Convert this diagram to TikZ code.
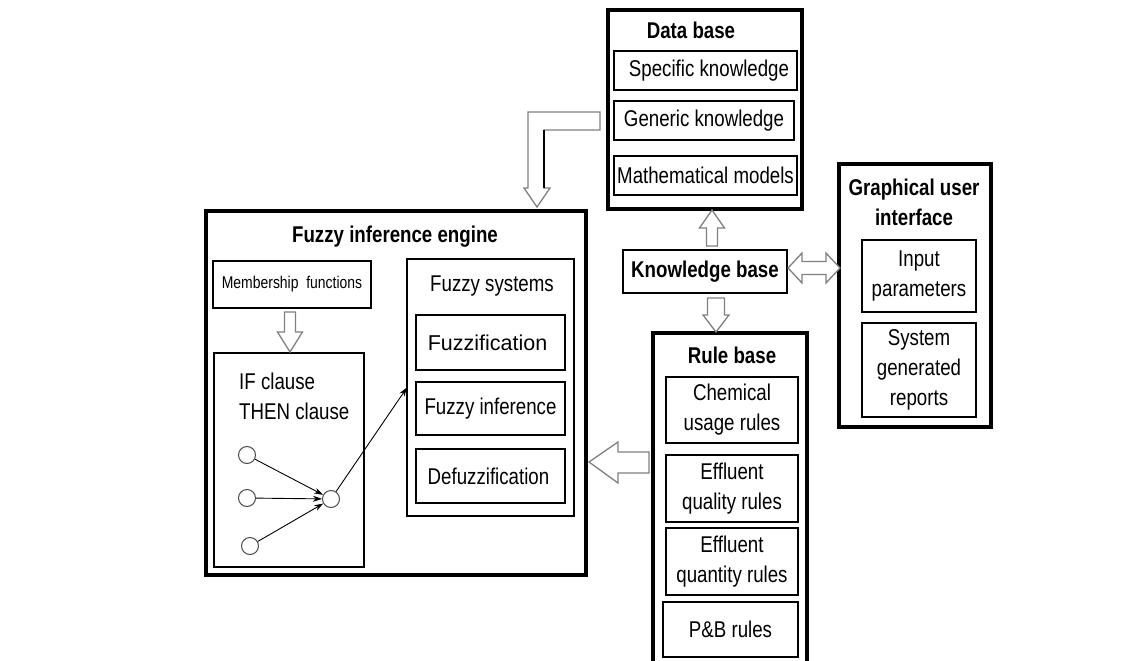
\documentclass[tikz,border=0pt]{standalone}
\usepackage{fontspec}
\setmainfont{Liberation Sans}[FakeStretch=0.82]
\newfontfamily\plainfont{Liberation Sans}
\usepackage{tikz}
\usetikzlibrary{calc}
\usetikzlibrary{arrows.meta}

\begin{document}
\begin{tikzpicture}[x=1pt,y=-1pt,
       font=\fontsize{22.8}{30}\selectfont,
       outerbox/.style={draw, line width=3.2pt, inner sep=0pt, outer sep=0pt},
       innerbox/.style={draw, line width=2.4pt, inner sep=0pt, outer sep=0pt, align=center},
       thinbox/.style={draw, line width=1.8pt, inner sep=0pt, outer sep=0pt, align=center},
       boxtitle/.style={font=\fontsize{22.8}{30}\selectfont\bfseries, align=center, inner sep=0pt},
       hollow/.style={draw=black!50, line width=1.3pt, fill=white, line join=miter},
       neuron/.style={circle, draw=black!70, line width=1pt, minimum size=17pt, inner sep=0pt},
       link/.style={line width=0.9pt, -{Stealth[length=9pt,width=6pt]}}]
       \fill[white] (0,0) rectangle (1143,661);
       \clip (0,0) rectangle (1143,661);
       
       % data base
       \node[outerbox, minimum width=194, minimum height=199] (db) at (705,109.5) {};
       \node[boxtitle] (dbt) at (691,30) {Data base};
       \node[innerbox, minimum width=183, minimum height=39] (spec) at (705.5,70.5) {\hspace{7pt}Specific knowledge};
       \node[innerbox, minimum width=180, minimum height=39] (gen) at (704,120.5) {Generic knowledge};
       \node[innerbox, minimum width=183, minimum height=39] (math) at (705.5,175.5) {Mathematical models};
       
       % knowledge base
       \node[outerbox, line width=2.8pt, minimum width=164, minimum height=43, font=\fontsize{22.8}{30}\selectfont\bfseries] (kb) at (705,271.5) {Knowledge base};
       
       % graphical user interface
       \node[outerbox, minimum width=152, minimum height=263] (gui) at (915,295.5) {};
       \node[boxtitle] (guit) at (914,202) {Graphical user\\interface};
       \node[innerbox, minimum width=114, minimum height=72] (inp) at (919,276) {Input\\parameters};
       \node[innerbox, minimum width=114, minimum height=94] (sys) at (919,370) {System\\generated\\reports};
       
       % rule base
       \node[outerbox, minimum width=154, minimum height=335] (rb) at (730,500.5) {};
       \node[boxtitle] (rbt) at (732,355) {Rule base};
       \node[thinbox, minimum width=132, minimum height=66] (chem) at (732,410) {Chemical\\usage rules};
       \node[thinbox, minimum width=132, minimum height=67] (effql) at (732,488.5) {Effluent\\quality rules};
       \node[thinbox, minimum width=132, minimum height=67] (effqn) at (732,561.5) {Effluent\\quantity rules};
       \node[innerbox, minimum width=135, minimum height=55] (pb) at (730.5,629.5) {P\&B rules};
       
       % fuzzy inference engine
       \node[outerbox, minimum width=380, minimum height=364] (fie) at (396,393) {};
       \node[boxtitle] (fiet) at (395,237) {Fuzzy inference engine};
       \node[thinbox, minimum width=158, minimum height=47, font=\fontsize{17}{20}\selectfont] (mf) at (292,284.5) {Membership\ \ functions};
       \node[innerbox, minimum width=150, minimum height=214] (ifb) at (289,460) {};
       \node[anchor=west, align=left, inner sep=0pt] (ift) at ($(ifb.north west)+(25,43)$) {IF clause\\THEN clause};
       \node[innerbox, minimum width=167, minimum height=257] (fs) at (490.5,387.5) {};
       \node[inner sep=0pt] (fst) at (492,286) {Fuzzy systems};
       \node[innerbox, minimum width=149, minimum height=55, font=\fontsize{21.5}{30}\plainfont] (fz) at (490.5,342.5) {Fuzzification\hspace{6pt}};
       \node[innerbox, minimum width=149, minimum height=53] (fi) at (490.5,408.5) {Fuzzy inference};
       \node[innerbox, minimum width=149, minimum height=54] (dz) at (490.5,476) {Defuzzification\hspace{4pt}};
       
       % rule nodes
       \node[neuron] (c1) at (247,455) {};
       \node[neuron] (c2) at (247,498) {};
       \node[neuron] (c3) at (250,546) {};
       \node[neuron] (co) at (331,499) {};
       \draw[link] (c1) -- (co);
       \draw[link] (c2) -- (co);
       \draw[link] (c3) -- (co);
       \draw[link] (co) -- (fs.west);
       
       % hollow arrows
       \draw[hollow] ($(kb.north)+(1.5,-4)$) -- ++(0,-18) -- ++(-7,0) -- ++(12.5,-18) -- ++(12.5,18) -- ++(-7,0) -- ++(0,18) -- cycle;
       \draw[hollow] ($(kb.south)+(2.5,5)$) -- ++(0,17) -- ++(-4.5,0) -- ++(13,17) -- ++(13,-17) -- ++(-4.5,0) -- ++(0,-17) -- cycle;
       \draw[hollow] ($(kb.east)+(1,-3.5)$) -- ++(14,-15) -- ++(0,8.5) -- ++(24,0) -- ++(0,-8.5) -- ++(14,15) -- ++(-14,15) -- ++(0,-8.5) -- ++(-24,0) -- ++(0,8.5) -- cycle;
       \draw[hollow] ($(rb.north west)+(-4,119)$) -- ++(-31,0) -- ++(0,-10) -- ++(-29,20) -- ++(29,21) -- ++(0,-10) -- ++(31,0) -- cycle;
       \draw[hollow] ($(mf.south)+(-7.5,4)$) -- ++(0,20) -- ++(-7,0) -- ++(12.5,20) -- ++(12.5,-20) -- ++(-7,0) -- ++(0,-20) -- cycle;
       \draw[hollow] ($(db.north west)+(-8,102)$) -- ++(-72,0) -- ++(0,76) -- ++(-4,0) -- ++(13,19) -- ++(13,-19) -- ++(-6,0) -- ++(0,-58) -- ++(56,0) -- cycle;
       \draw[line width=1.3pt] ($(db.north west)+(-64,120)$) -- ++(0,58);
\end{tikzpicture}
\end{document}
